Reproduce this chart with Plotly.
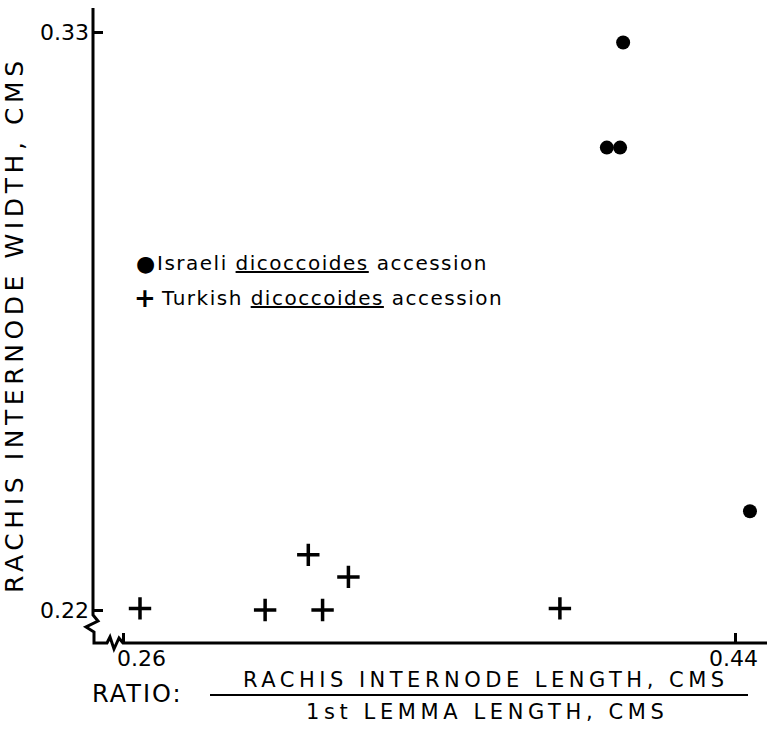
import plotly.graph_objects as go

# ---- data ----
israeli_x = [0.4071, 0.4023, 0.4062, 0.4444]
israeli_y = [0.3280, 0.3080, 0.3080, 0.2388]
turkish_x = [0.2650, 0.3018, 0.3145, 0.3187, 0.3263, 0.3885]
turkish_y = [0.2203, 0.2200, 0.2305, 0.2200, 0.2263, 0.2203]
x_ticks = [0.26, 0.44]
x_ticktext = ["0.26", "0.44"]
y_ticks = [0.22, 0.33]
y_ticktext = ["0.22", "0.33"]

W, H = 767, 729
L, R, T, B = 93, 0, 8, 86
PW, PH = W - L - R, H - T - B

def X(px):
    return (px - L) / PW

def Y(py):
    return (H - B - py) / PH

FONT = "DejaVu Sans"

fig = go.Figure()
fig.add_trace(go.Scatter(
    x=israeli_x, y=israeli_y, mode="markers", name="Israeli dicoccoides accession",
    marker=dict(symbol="circle", size=14, color="black"), showlegend=False))
fig.add_trace(go.Scatter(
    x=turkish_x, y=turkish_y, mode="markers", name="Turkish dicoccoides accession",
    marker=dict(symbol="cross-thin-open", size=16, color="black",
                line=dict(color="black", width=3.5)), showlegend=False))

# axis lines with break marks
pts = [(93, 8), (93, 615), (98, 621), (86, 627), (94, 632), (94, 643), (107, 643),
       (110, 637), (114, 649), (119, 638), (123, 643), (767, 643)]
axis_path = "M " + " L ".join("{},{}".format(X(a), Y(b)) for a, b in pts)
shapes = [
    dict(type="path", xref="paper", yref="paper", path=axis_path,
         line=dict(color="black", width=3)),
    dict(type="line", xref="paper", yref="paper", x0=X(210), x1=X(748), y0=Y(695), y1=Y(695),
         line=dict(color="black", width=2)),
]

def spaced(t, sp):
    return '<span style="letter-spacing:{}px">{}</span>'.format(sp, t)

def ann(text, x, y, size, xanchor="center", **kw):
    d = dict(text=text, xref="paper", yref="paper", x=X(x), y=Y(y), showarrow=False,
             xanchor=xanchor, yanchor="middle",
             font=dict(family=FONT, size=size, color="black"))
    d.update(kw)
    return d

annotations = [
    ann(spaced("RACHIS INTERNODE WIDTH, CMS", 4.6), 14, 325, 25, textangle=-90),
    ann(spaced("RATIO:", 2), 137, 694, 24),
    ann(spaced("RACHIS INTERNODE LENGTH, CMS", 4.5), 486, 680, 21),
    ann(spaced("1st LEMMA LENGTH, CMS", 4.6), 487, 712, 21),
    # legend
    ann("●", 145, 263, 22),
    ann("<b>+</b>", 145, 298, 26),
    ann(spaced("Israeli <u>dicoccoides</u> accession", 1.5), 155, 263, 20, xanchor="left"),
    ann(spaced("Turkish <u>dicoccoides</u> accession", 1.5), 159, 298, 20, xanchor="left"),
]
# x tick labels
for v, t, sh in zip(x_ticks, x_ticktext, [18, -2]):
    annotations.append(dict(text=t, xref="x", yref="paper", x=v, xshift=sh, y=Y(658),
                            xanchor="center", yanchor="middle", showarrow=False,
                            font=dict(family=FONT, size=22, color="black")))

fig.update_layout(
    width=W, height=H, margin=dict(l=L, r=R, t=T, b=B, pad=0),
    paper_bgcolor="white", plot_bgcolor="white",
    xaxis=dict(range=[0.26 - 30 / 3400, 0.44 + 32 / 3400], showgrid=False, zeroline=False,
               showline=False, tickvals=x_ticks, ticks="inside", ticklen=10, tickwidth=2.5,
               tickcolor="black", showticklabels=False),
    yaxis=dict(range=[0.22 - 33 / 5254.5, 0.33 + 24 / 5254.5], showgrid=False, zeroline=False,
               showline=False, tickvals=y_ticks, ticktext=y_ticktext, ticks="inside",
               ticklen=10, tickwidth=2.5, tickcolor="black", showticklabels=True,
               tickfont=dict(family=FONT, size=22, color="black"), ticklabelstandoff=3),
    shapes=shapes, annotations=annotations, showlegend=False,
)

fig.write_html("out.html")
